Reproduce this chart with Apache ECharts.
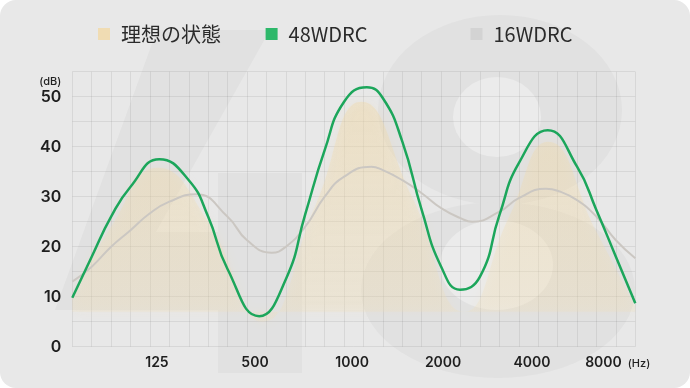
<!DOCTYPE html>
<html>
<head>
<meta charset="utf-8">
<script src="https://cdn.jsdelivr.net/npm/echarts@6/dist/echarts.min.js"></script>
<style>
html,body{margin:0;padding:0;background:#ffffff;}
#card{position:absolute;left:0;top:0;width:690px;height:388px;border-radius:16px;overflow:hidden;background:#e8e8e8;}
#chart{width:690px;height:388px;}
</style>
</head>
<body>
<div id="card"><div id="chart"></div></div>
<script>
// ---- data (x = position along the frequency grid, in grid columns) ----
const idealX      = [0, 2, 4.4, 7, 9.8, 12.5, 14.9, 17.5, 20.2, 22.5, 24.5, 27, 29];
const idealValues = [10, 24, 35.8, 25, 5, 28, 49, 30, 7, 26, 41, 23, 8];
const wdrc48X      = [0, 1, 2, 3, 4.48, 6, 7, 8, 9.63, 11, 12, 13, 14, 15.17, 16, 17, 18, 19, 19.97, 21, 22, 23, 24.49, 26, 27, 28, 29];
const wdrc48Values = [9.8, 18, 26, 32, 37.5, 33.3, 26, 15.5, 6.1, 13.5, 26.5, 39.3, 49, 51.9, 49.7, 41, 27.3, 16, 11.4, 14, 26.3, 36.7, 43.3, 36, 27.3, 18, 8.7];
const wdrc16X      = [0, 1, 2, 3, 4, 5, 6.37, 8, 9, 10.27, 11, 12, 13, 14, 15.4, 16, 17, 18, 19, 20, 20.6, 22, 23, 24.4, 25, 26, 27, 28, 29];
const wdrc16Values = [13, 16, 20, 23.3, 26.7, 29, 30.5, 26, 21.3, 18.8, 20, 24, 30, 34, 36, 35.3, 33.3, 30.7, 27.7, 25.7, 25, 27, 29.7, 31.6, 31.2, 29.3, 26, 21.3, 17.7];
const xTickPos = [4.36, 9.41, 14.41, 19.1, 23.68, 27.36];
const xTickLabels = ['125','500','1000','2000','4000','8000'];
const seriesNames = ['理想の状態','48WDRC','16WDRC'];

const pairs = (xs, ys) => xs.map((x,i) => [x, ys[i]]);

const chart = echarts.init(document.getElementById('chart'), null, {renderer:'canvas'});

const legendCommon = {
  top: 24, padding: 0, itemWidth: 12, itemHeight: 12, selectedMode: false,
  textStyle: {fontSize: 20, color: '#2b2b2b', fontFamily: '"Noto Sans CJK JP", "Noto Sans", sans-serif', padding: [0,0,0,6], lineHeight: 20}
};
const wm = '#e1e1e1', hole = '#ebebeb';

chart.setOption({
  animation: false,
  backgroundColor: 'transparent',
  graphic: {elements: [
    {type:'polygon', z:-100, silent:true, shape:{points:[[55,310],[157,30],[270,30],[156,232],[218,232],[218,173],[302,173],[302,373],[218,373],[218,310]]}, style:{fill:wm}},
    {type:'circle', z:-100, silent:true, x:500, y:110, scaleX:1.22, scaleY:0.95, shape:{cx:0, cy:0, r:100}, style:{fill:wm}},
    {type:'circle', z:-100, silent:true, x:498, y:290, scaleX:1.37, scaleY:0.88, shape:{cx:0, cy:0, r:100}, style:{fill:wm}},
    {type:'circle', z:-99, silent:true, x:497, y:117, scaleX:0.44, scaleY:0.40, shape:{cx:0, cy:0, r:100}, style:{fill:hole}},
    {type:'circle', z:-99, silent:true, x:496.5, y:265, scaleX:0.565, scaleY:0.45, shape:{cx:0, cy:0, r:100}, style:{fill:hole}}
  ]},
  legend: [
    Object.assign({left: 98, data:[{name: seriesNames[0], icon:'rect', itemStyle:{color:'#f0dcb3'}}]}, legendCommon),
    Object.assign({left: 265.6, data:[{name: seriesNames[1], icon:'rect', itemStyle:{color:'#2db86a'}}]}, legendCommon),
    Object.assign({left: 470.5, data:[{name: seriesNames[2], icon:'rect', itemStyle:{color:'#d3d3d3'}}]}, legendCommon)
  ],
  grid: {left: 72.3, right: 54.7, top: 71.7, bottom: 41.3, containLabel: false},
  xAxis: {
    type: 'value', min: 0, max: 29, interval: 1,
    name: '(Hz)', nameLocation: 'end', nameGap: -9.3,
    nameTextStyle: {align:'left', verticalAlign:'top', padding:[11,0,0,0], fontSize: 11, fontWeight: 500, color:'#222', fontFamily:'Inter, sans-serif'},
    axisLine: {show: false}, axisTick: {show: false},
    splitLine: {show: true, lineStyle: {color: 'rgba(0,0,0,0.07)', width: 1}},
    axisLabel: {
      customValues: xTickPos, margin: 9, fontSize: 14, fontWeight: 600, color: '#1e1e1e', fontFamily: 'Inter, sans-serif',
      formatter: v => { let b = 0; xTickPos.forEach((p,i) => { if (Math.abs(p - v) < Math.abs(xTickPos[b] - v)) b = i; }); return xTickLabels[b]; }
    }
  },
  yAxis: {
    type: 'value', min: 0, max: 55, interval: 5,
    name: '(dB)', nameLocation: 'end', nameGap: -15,
    nameTextStyle: {align:'right', verticalAlign:'bottom', padding:[0,11,0,0], fontSize: 11, fontWeight: 500, color:'#222', fontFamily:'Inter, sans-serif'},
    axisLine: {show: false}, axisTick: {show: false},
    splitLine: {show: true, lineStyle: {color: 'rgba(0,0,0,0.07)', width: 1}},
    axisLabel: {margin: 11, fontSize: 16, fontWeight: 600, color: '#1e1e1e', fontFamily: 'Inter, sans-serif', padding: [4,0,0,0],
      formatter: v => (v % 10 === 0 ? String(v) : '')}
  },
  series: [
    {name: seriesNames[0], type: 'line', smooth: true, symbol: 'none', z: 1,
     data: pairs(idealX, idealValues),
     itemStyle: {color: '#f0dcb3'},
     lineStyle: {width: 0, opacity: 0},
     areaStyle: {origin: 7, color: new echarts.graphic.LinearGradient(0,0,0,1,[{offset:0,color:'rgba(240,214,160,0.5)'},{offset:1,color:'rgba(240,222,180,0.32)'}]),
       shadowBlur: 12, shadowColor: 'rgba(240,214,160,0.55)'}},
    {name: seriesNames[2], type: 'line', smooth: true, symbol: 'none', z: 2,
     data: pairs(wdrc16X, wdrc16Values),
     itemStyle: {color: '#d3d3d3'},
     lineStyle: {width: 2, color: '#cbc7c2'}},
    {name: seriesNames[1], type: 'line', smooth: true, symbol: 'none', z: 3,
     data: pairs(wdrc48X, wdrc48Values),
     itemStyle: {color: '#2db86a'},
     lineStyle: {width: 2.5, color: '#1ca65b'}}
  ]
});
</script>
</body>
</html>
